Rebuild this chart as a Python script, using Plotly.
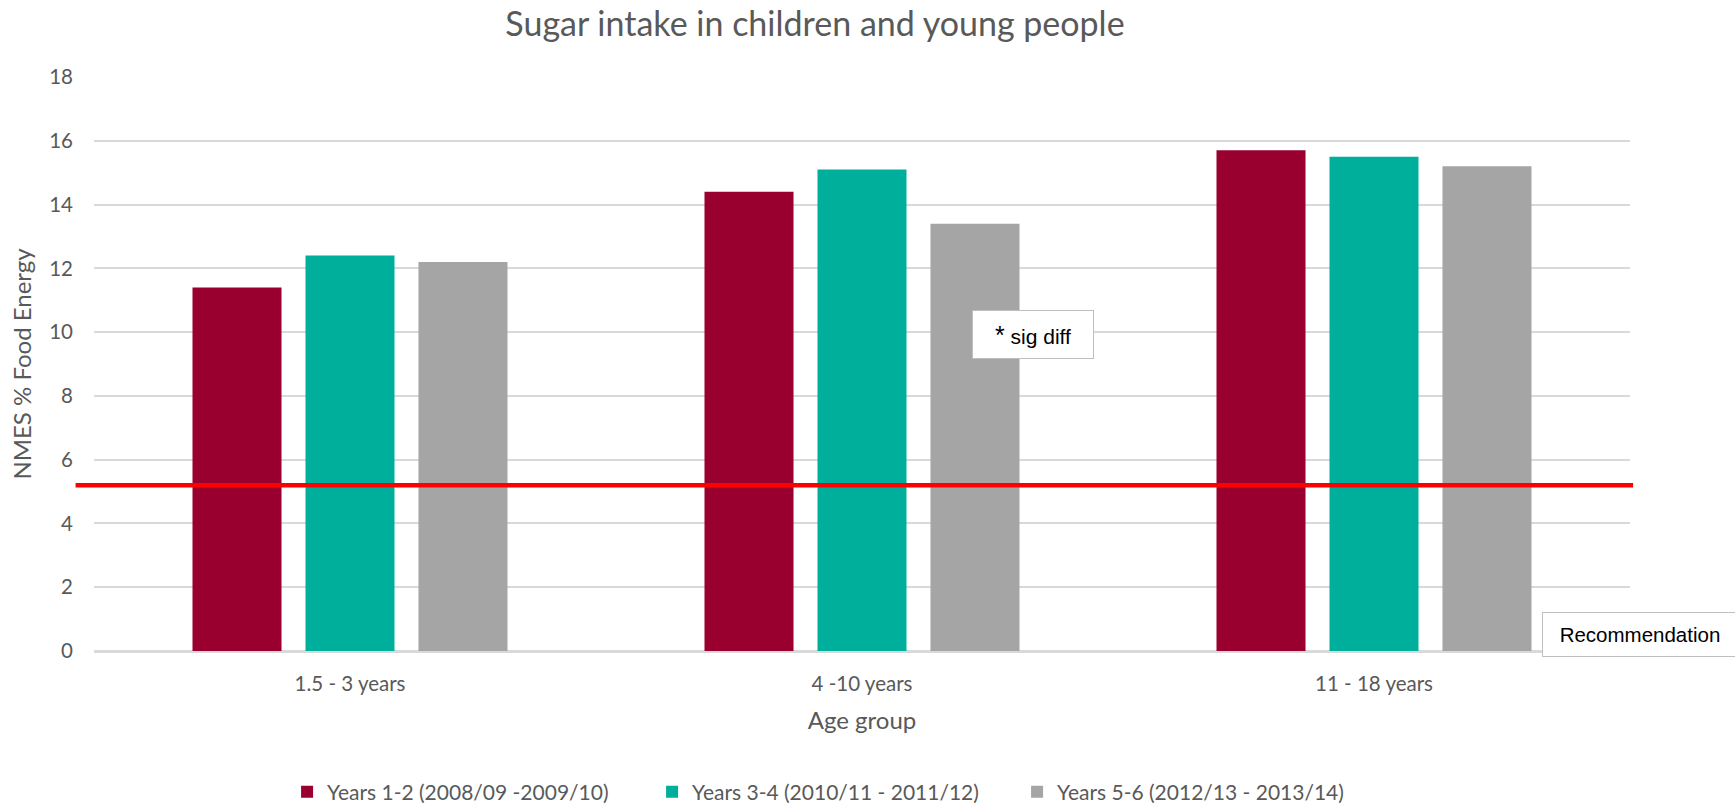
import plotly.graph_objects as go

# Age groups on the x axis
age_groups = ["1.5 - 3 years", "4 -10 years", "11 - 18 years"]

# NMES as % of food energy, one list per survey period
years_1_2 = [11.4, 14.4, 15.7]
years_3_4 = [12.4, 15.1, 15.5]
years_5_6 = [12.2, 13.4, 15.2]

series_names = [
    "Years 1-2 (2008/09 -2009/10)",
    "Years 3-4 (2010/11 - 2011/12)",
    "Years 5-6 (2012/13 - 2013/14)",
]
series_colors = ["#990030", "#00AE9C", "#A5A5A5"]

# Recommended maximum level
recommendation = 5.2

y_ticks = [0, 2, 4, 6, 8, 10, 12, 14, 16, 18]

W, H = 1735, 803
L, R, T, B = 94, 105, 77, 152

FONT = "Lato"
TEXT_GREY = "#595959"

fig = go.Figure()
for name, vals, col in zip(series_names, [years_1_2, years_3_4, years_5_6], series_colors):
    fig.add_trace(go.Bar(
        x=age_groups, y=vals, name=name,
        marker=dict(color=col, line=dict(width=0)),
    ))

# Recommendation line across the plot
fig.add_shape(
    type="line", xref="paper", yref="y",
    x0=-0.012, x1=1.002, y0=recommendation, y1=recommendation,
    line=dict(color="#FF0000", width=4.5), layer="above",
)

# Text boxes
fig.add_annotation(
    text="<span style='font-size:25px'>*</span> sig diff", xref="paper", yref="paper",
    x=0.6113, y=0.5514, xanchor="center", yanchor="middle",
    showarrow=False, width=120, height=47,
    bgcolor="white", bordercolor="#BFBFBF", borderwidth=1, borderpad=0,
    font=dict(family="Liberation Sans, Arial", size=21, color="black"),
)
fig.add_annotation(
    text="Recommendation", xref="paper", yref="paper",
    x=0.9427, y=0.0287, xanchor="left", yanchor="middle",
    showarrow=False, width=194, height=43,
    bgcolor="white", bordercolor="#BFBFBF", borderwidth=1, borderpad=0,
    font=dict(family="Liberation Sans, Arial", size=20.5, color="black"),
)

fig.update_layout(
    width=W, height=H,
    margin=dict(l=L, r=R, t=T, b=B),
    paper_bgcolor="white", plot_bgcolor="white",
    barmode="group", bargap=0.338, bargroupgap=0.212,
    font=dict(family=FONT, color=TEXT_GREY, size=20),
    title=dict(
        text="Sugar intake in children and young people",
        x=0.4694, xanchor="center", xref="paper",
        y=1 - 24 / H, yanchor="middle", yref="container",
        font=dict(family=FONT, size=34, color=TEXT_GREY),
    ),
    xaxis=dict(
        showgrid=False, showline=True, linecolor="#D9D9D9", linewidth=1.5,
        ticks="", ticklabelstandoff=14,
        tickfont=dict(size=20.5, color=TEXT_GREY),
        title=dict(text="Age group", font=dict(size=24, color=TEXT_GREY), standoff=18),
    ),
    yaxis=dict(
        range=[0, 18], tickvals=y_ticks, showgrid=True,
        gridcolor="#D9D9D9", gridwidth=1.5, zeroline=True,
        zerolinecolor="#D9D9D9", zerolinewidth=1.5,
        ticks="", ticklabelstandoff=20,
        tickfont=dict(size=20.5, color=TEXT_GREY),
        title=dict(text="NMES % Food Energy", font=dict(size=24, color=TEXT_GREY), standoff=10),
    ),
    legend=dict(
        orientation="h", x=0.1257, xanchor="left",
        y=1 - 792 / H, yanchor="middle", yref="container",
        font=dict(size=21, color=TEXT_GREY),
        entrywidth=320, entrywidthmode="pixels",
        itemwidth=30, traceorder="normal",
    ),
    showlegend=True,
)

fig.write_html("out.html")
